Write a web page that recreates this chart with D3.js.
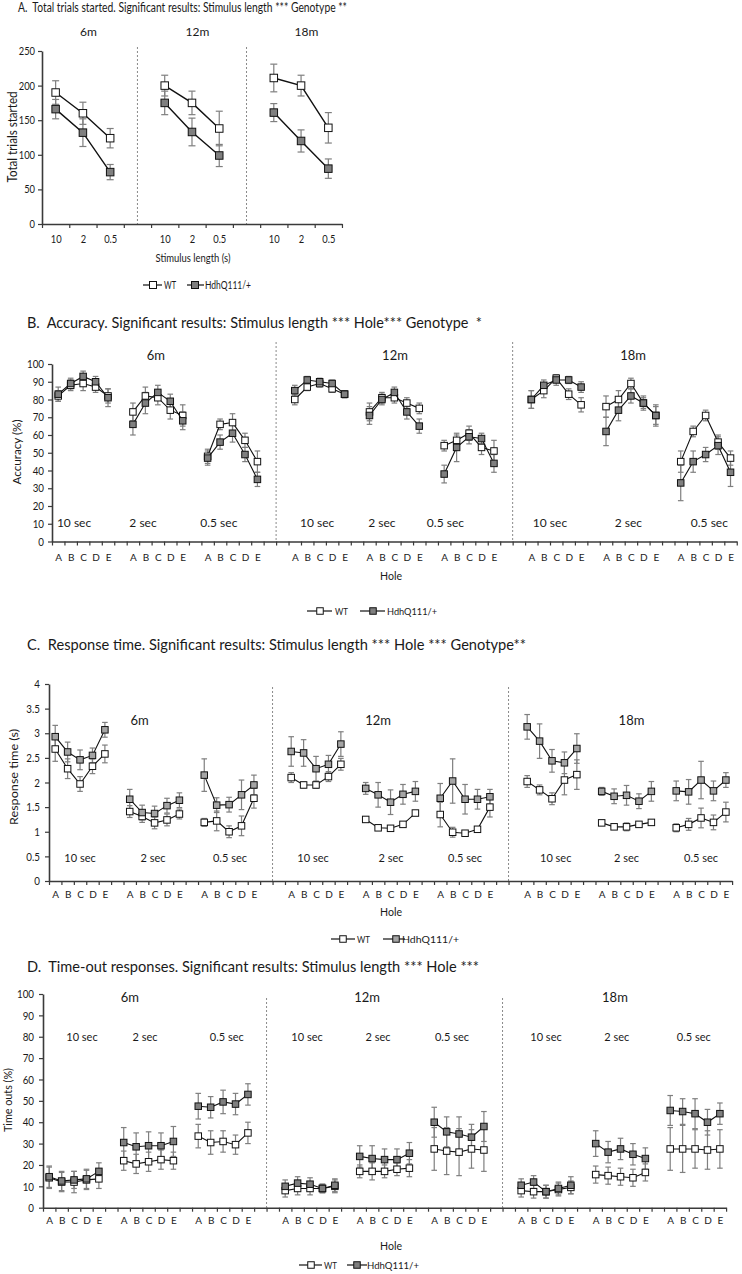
<!DOCTYPE html>
<html><head><meta charset="utf-8">
<script src="https://cdn.jsdelivr.net/npm/d3@7"></script>
<style>
html,body{margin:0;padding:0;background:#fff;}
text{font-family:Lato,"Open Sans","Liberation Sans",sans-serif;fill:#1a1a1a;white-space:pre;}
</style></head><body>
<script>
// ===== DATA =====
const months = ["6m","12m","18m"];
const stimLengths = ["10","2","0.5"];
const stimLabels = ["10 sec","2 sec","0.5 sec"];
const holes = ["A","B","C","D","E"];
const seriesNames = ["WT","HdhQ111/+"];

// Panel A: total trials started [month][stimulus]
const trialsTicks = [0,50,100,150,200,250];
const trialsWT     = [[190,160,124],[200,175,138],[211,200,139]];
const trialsWTErr  = [[17,16,14],[15,17,25],[20,15,22]];
const trialsHdh    = [[166,132,75],[175,133,99],[161,120,80]];
const trialsHdhErr = [[14,20,11],[17,20,16],[13,16,14]];

// Panel B: accuracy (%) [month][stim*5+hole]
const accTicks = [0,10,20,30,40,50,60,70,80,90,100];
const accWT = [
  [82,88,89,87,82, 73,82,81,74,71, 48,66,67,57,45],
  [80,87,89,86,83, 73,81,81,78,75, 54,57,61,53,51],
  [80,85,92,83,77, 76,80,89,78,71, 45,62,71,56,47]];
const accWTErr = [
  [3,3,4,3,4, 5,5,4,5,6, 4,3,5,4,6],
  [3,2,2,2,2, 5,3,3,3,3, 3,3,4,4,6],
  [5,4,2,3,4, 6,5,3,3,5, 6,3,3,4,4]];
const accHdh = [
  [83,89,93,90,81, 66,78,84,79,68, 47,56,61,49,35],
  [85,91,90,89,83, 71,80,84,73,65, 38,53,59,58,44],
  [80,88,91,91,87, 62,74,82,78,71, 33,45,49,54,39]];
const accHdhErr = [
  [4,3,3,3,5, 6,6,4,4,5, 4,4,5,4,4],
  [3,2,2,2,2, 5,3,3,4,4, 5,8,4,3,5],
  [5,3,3,2,3, 8,6,4,4,6, 10,6,4,5,8]];

// Panel C: response time (s)
const rtTicks = [0,0.5,1,1.5,2,2.5,3,3.5,4];
const rtWT = [
  [2.68,2.28,1.97,2.33,2.58, 1.41,1.31,1.18,1.24,1.36, 1.19,1.22,1.00,1.12,1.68],
  [2.10,1.95,1.95,2.12,2.37, 1.25,1.08,1.07,1.15,1.38, 1.35,0.99,0.97,1.05,1.50],
  [2.02,1.85,1.67,2.05,2.16, 1.18,1.10,1.10,1.15,1.19, 1.08,1.15,1.28,1.19,1.40]];
const rtWTErr = [
  [0.25,0.20,0.15,0.15,0.18, 0.12,0.12,0.12,0.12,0.10, 0.08,0.20,0.12,0.20,0.20],
  [0.10,0.06,0.07,0.10,0.12, 0.05,0.05,0.05,0.05,0.05, 0.25,0.10,0.05,0.05,0.20],
  [0.12,0.10,0.12,0.30,0.30, 0.05,0.05,0.08,0.05,0.05, 0.08,0.12,0.20,0.15,0.20]];
const rtHdh = [
  [2.93,2.62,2.46,2.55,3.07, 1.66,1.39,1.37,1.53,1.64, 2.15,1.54,1.55,1.75,1.95],
  [2.63,2.60,2.28,2.37,2.78, 1.88,1.75,1.60,1.76,1.82, 1.68,2.03,1.66,1.66,1.71],
  [3.13,2.84,2.44,2.40,2.69, 1.82,1.72,1.74,1.62,1.82, 1.83,1.81,2.05,1.83,2.05]];
const rtHdhErr = [
  [0.23,0.20,0.20,0.15,0.15, 0.20,0.15,0.15,0.15,0.15, 0.33,0.15,0.15,0.30,0.20],
  [0.30,0.27,0.25,0.18,0.25, 0.12,0.25,0.25,0.20,0.20, 0.30,0.45,0.30,0.20,0.15],
  [0.25,0.35,0.23,0.22,0.30, 0.08,0.15,0.20,0.15,0.20, 0.20,0.25,0.38,0.20,0.15]];

// Panel D: time-out responses (%)
const toTicks = [0,10,20,30,40,50,60,70,80,90,100];
const toWT = [
  [14,12,12,13,13.5, 22,20.5,21.5,22.5,22, 33.5,30.5,31,29.5,35],
  [8,9,9,9,10, 17,17,17,18,18.5, 27.5,26.5,26,27.5,27],
  [8,7.5,7.5,8.5,9.5, 15.5,15,14.5,14,16.5, 27.5,27.5,27.5,27,27.5]];
const toWTErr = [
  [5,4.5,5,4.5,4.5, 4.5,4.5,4.5,4.5,4, 5.5,5.5,5,4.5,5],
  [3,3,3,2,3, 3,4,3,3,4, 10,11,11,9,10],
  [3,3,3,3,3, 4,4,4,4,4, 10,11,9,9,9]];
const toHdh = [
  [14.5,12.5,13,13.5,17, 30.5,28.5,29,29,31, 47.5,47,49.5,48.5,53],
  [10,11.5,11,9,10.5, 24,23,22.5,22.5,25.5, 40,35.5,34.5,33,38],
  [10.5,12,7.5,9,10.5, 30,26,27.5,25,23, 45.5,45,44,40,44]];
const toHdhErr = [
  [5,4.5,4,4.5,4, 7,6.5,6.5,6,7, 6,5,5.5,5,5],
  [3,3,3,2,3, 5,6,5,5,5, 7,7,8,6,7],
  [3,3,3,3,4, 6,5,5,5,5, 7,6,7,6,5]];

// ===== DRAWING =====
const svg = d3.select("body").append("svg").attr("width",742).attr("height",1274);
const AX = "#3a3a3a", ERR = "#7f7f7f";

function fit(sel,w){ sel.attr("textLength",w).attr("lengthAdjust","spacingAndGlyphs"); return sel; }
function squish(sel,k){ sel.each(function(){ const w=this.getComputedTextLength(); if(w>0) d3.select(this).attr("textLength",w*k).attr("lengthAdjust","spacingAndGlyphs"); }); }
function styleAxis(a, fs){
  a.select(".domain").attr("stroke",AX).attr("stroke-width",1.6);
  a.selectAll(".tick line").attr("stroke",AX).attr("stroke-width",1.2);
  a.selectAll(".tick text").attr("fill","#333").style("font-size",fs+"px").attr("font-family",null);
}
function addText(g,t,x,y,fs,anchor,w,weight){
  const s=g.append("text").attr("x",x).attr("y",y).attr("text-anchor",anchor||"start").style("font-size",fs+"px").text(t);
  if(weight) s.style("font-weight",weight);
  if(w) fit(s,w);
  return s;
}
function drawErr(g,pts,cap){
  const e=g.append("g").attr("stroke",ERR).attr("stroke-width",1.2);
  pts.forEach(d=>{
    e.append("line").attr("x1",d.x).attr("x2",d.x).attr("y1",d.ylo).attr("y2",d.yhi);
    e.append("line").attr("x1",d.x-cap).attr("x2",d.x+cap).attr("y1",d.ylo).attr("y2",d.ylo);
    e.append("line").attr("x1",d.x-cap).attr("x2",d.x+cap).attr("y1",d.yhi).attr("y2",d.yhi);
  });
}
function drawSeries(g,pts,fill,sz,lw){
  g.append("path").datum(pts).attr("d",d3.line().x(d=>d.x).y(d=>d.y)).attr("fill","none").attr("stroke","#111").attr("stroke-width",lw);
  g.selectAll(null).data(pts).enter().append("rect")
    .attr("x",d=>d.x-sz/2).attr("y",d=>d.y-sz/2).attr("width",sz).attr("height",sz)
    .attr("fill",fill).attr("stroke","#111").attr("stroke-width",1);
}
function legend(g,o,fill,sz){
  const items=[[o.wl,o.ws,o.wt,o.ww,"#fff"],[o.hl,o.hs,o.ht,o.hw,fill]];
  items.forEach((it,i)=>{
    g.append("line").attr("x1",it[0][0]).attr("x2",it[0][1]).attr("y1",o.y).attr("y2",o.y).attr("stroke","#111").attr("stroke-width",1.2);
    g.append("rect").attr("x",it[1]-sz/2).attr("y",o.y-sz/2).attr("width",sz).attr("height",sz).attr("fill",it[4]).attr("stroke","#111");
    addText(g,seriesNames[i],it[2],o.y+3.5,o.fs,"start",it[3]);
  });
}
function yTitle(g,t,x,y,fs,w){
  const s=g.append("text").attr("transform",`translate(${x},${y}) rotate(-90)`).attr("text-anchor","middle").attr("dy","0.35em").style("font-size",fs+"px").text(t);
  fit(s,w);
}

// ---------- Panel A ----------
(function(){
  const n=11, x0=42, sw=27.27, yb=224;
  const x=d3.scaleLinear().domain([0,n]).range([x0,x0+n*sw]);
  const y=d3.scaleLinear().domain([0,250]).range([yb,51]);
  const g=svg.append("g");
  addText(g,"A.  Total trials started. Significant results: Stimulus length *** Genotype **",18,12,13.5,"start",329);
  [3.5,7.5].forEach(b=>g.append("line").attr("x1",x(b)).attr("x2",x(b)).attr("y1",47).attr("y2",yb).attr("stroke","#8a8a8a").attr("stroke-dasharray","2,2"));
  const ya=g.append("g").attr("transform",`translate(${x0},0)`).call(d3.axisLeft(y).tickValues(trialsTicks).tickSize(4).tickSizeOuter(0).tickPadding(3));
  styleAxis(ya,11); squish(ya.selectAll(".tick text"),0.85);
  const xa=g.append("g").attr("transform",`translate(0,${yb})`).call(d3.axisBottom(x).tickValues(d3.range(0,n+1)).tickSize(4).tickSizeOuter(0).tickFormat(""));
  styleAxis(xa,11);
  const xl=g.append("g").attr("transform",`translate(0,${yb})`).call(d3.axisBottom(x).tickValues(d3.range(0,n).map(k=>k+0.5)).tickSize(0).tickFormat(d=>{const k=Math.floor(d)%4;return k<3?stimLengths[k]:"";}));
  xl.select(".domain").remove(); styleAxis(xl,11);
  xl.selectAll("text").attr("dy",null).attr("y",19); squish(xl.selectAll(".tick text"),0.85);
  months.forEach((m,i)=>addText(g,m,x(i*4+1.7),36,12,"middle"));
  addText(g,"Stimulus length (s)",193,262,12,"middle",75);
  yTitle(g,"Total trials started",13,137,12.5,91);
  const mk=(vals,errs)=>{const p=[];months.forEach((m,mi)=>{const row=[];stimLengths.forEach((s,si)=>{const v=vals[mi][si],e=errs[mi][si];row.push({x:x(mi*4+si+0.5),y:y(v),ylo:y(v-e),yhi:y(v+e)});});p.push(row);});return p;};
  const wt=mk(trialsWT,trialsWTErr), hd=mk(trialsHdh,trialsHdhErr);
  wt.concat(hd).forEach(r=>drawErr(g,r,3.5));
  wt.forEach(r=>drawSeries(g,r,"#fff",7.5,1.4));
  hd.forEach(r=>drawSeries(g,r,"#7f7f7f",7.5,1.4));
  legend(g,{y:285,fs:10.5,wl:[143,162],ws:153,wt:164,ww:12,hl:[187,204],hs:195,ht:205,hw:46},"#7f7f7f",7);
})();

// ---------- Hole panels ----------
function holePanel(o){
  const n=55, per=19;
  const x=d3.scaleLinear().domain([0,n]).range([o.x0,o.x0+n*o.sw]);
  const y=d3.scaleLinear().domain([0,o.max]).range([o.yb,o.yt]);
  const g=svg.append("g");
  const slot=(m,s,h)=>m*per+s*6+h;
  addText(g,o.title,27,o.titleY,16,"start",o.titleW);
  [18,37].forEach(b=>g.append("line").attr("x1",x(b)).attr("x2",x(b)).attr("y1",o.dashTop).attr("y2",o.yb).attr("stroke","#8a8a8a").attr("stroke-dasharray","2,2"));
  const ya=g.append("g").attr("transform",`translate(${o.x0},0)`).call(d3.axisLeft(y).tickValues(o.ticks).tickSize(4).tickSizeOuter(0).tickPadding(o.tp).tickFormat(d=>String(d)));
  styleAxis(ya,11.5); squish(ya.selectAll(".tick text"),0.85);
  const xa=g.append("g").attr("transform",`translate(0,${o.yb})`).call(d3.axisBottom(x).tickValues(d3.range(0,n+1)).tickSize(4).tickSizeOuter(0).tickFormat(""));
  styleAxis(xa,10);
  const lab=k=>{const r=k%per;return (r<17&&r%6<5)?holes[r%6]:"";};
  const xl=g.append("g").attr("transform",`translate(0,${o.yb})`).call(d3.axisBottom(x).tickValues(d3.range(0,n).map(k=>k+0.5)).tickSize(0).tickFormat(d=>lab(Math.floor(d))));
  xl.select(".domain").remove(); styleAxis(xl,10);
  xl.selectAll("text").attr("dy",null).attr("y",o.xlOff);
  months.forEach((m,i)=>addText(g,m,x(i*per+o.monthPos[i]),o.monthY,13,"middle"));
  o.stimPos.forEach((p,i)=>addText(g,stimLabels[i%3],x(p),o.stimY,o.stimFs,"middle"));
  addText(g,"Hole",391,o.holeY,12,"middle",22);
  yTitle(g,o.yTitle,o.ytx,o.yty,12,o.ytw);
  const mk=(vals,errs)=>{const p=[];months.forEach((m,mi)=>{stimLabels.forEach((s,si)=>{p.push(holes.map((h,hi)=>{const v=vals[mi][si*5+hi],e=errs[mi][si*5+hi];return {x:x(slot(mi,si,hi)+0.5),y:y(v),ylo:y(Math.max(0,v-e)),yhi:y(v+e)};}));});});return p;};
  const wt=mk(o.wt,o.wtE), hd=mk(o.hd,o.hdE);
  wt.concat(hd).forEach(r=>drawErr(g,r,2.8));
  wt.forEach(r=>drawSeries(g,r,"#fff",6.5,1.1));
  hd.forEach(r=>drawSeries(g,r,o.fill,6.5,1.1));
  legend(g,o.leg,o.fill,6.5);
}

holePanel({title:"B.  Accuracy. Significant results: Stimulus length *** Hole*** Genotype  *",titleY:328,titleW:455,
  x0:52,sw:12.45,yb:541.5,yt:364,max:100,ticks:accTicks,tp:4,dashTop:342,xlOff:19.5,
  monthPos:[8.35,8.55,8.67],monthY:360,stimPos:[1.77,7.31,13.4,21.3,26.5,31.6,40.0,46.3,52.8],stimY:527,stimFs:12,
  holeY:580,yTitle:"Accuracy (%)",ytx:17,yty:452,ytw:65,wt:accWT,wtE:accWTErr,hd:accHdh,hdE:accHdhErr,fill:"#7f7f7f",
  leg:{y:611,fs:10,wl:[307,332],ws:320,wt:335,ww:13,hl:[360,385],hs:373,ht:387,hw:50}});

holePanel({title:"C.  Response time. Significant results: Stimulus length *** Hole *** Genotype**",titleY:650,titleW:499,
  x0:49,sw:12.42,yb:881,yt:684,max:4,ticks:rtTicks,tp:5,dashTop:687,xlOff:17,
  monthPos:[7.3,7.5,8.9],monthY:725,stimPos:[2.5,8.37,14.57,21.26,27.54,33.5,40.8,46.5,52.5],stimY:862,stimFs:11,
  holeY:916,yTitle:"Response time (s)",ytx:14,yty:777,ytw:96,wt:rtWT,wtE:rtWTErr,hd:rtHdh,hdE:rtHdhErr,fill:"#a5a5a5",
  leg:{y:939,fs:10,wl:[331,355],ws:343,wt:357,ww:13,hl:[383,405],hs:396,ht:402,hw:57}});

holePanel({title:"D.  Time-out responses. Significant results: Stimulus length *** Hole ***",titleY:972,titleW:452,
  x0:43,sw:12.42,yb:1207.7,yt:994,max:100,ticks:toTicks,tp:5,dashTop:998,xlOff:16.5,
  monthPos:[7.0,7.1,8.05],monthY:1002,stimPos:[3.14,8.21,14.8,21.26,26.97,32.93,40.5,46.2,52.4],stimY:1041,stimFs:11,
  holeY:1250,yTitle:"Time outs (%)",ytx:8,yty:1100,ytw:64,wt:toWT,wtE:toWTErr,hd:toHdh,hdE:toHdhErr,fill:"#7f7f7f",
  leg:{y:1265,fs:10,wl:[299,322],ws:311,wt:324,ww:13,hl:[347,367],hs:357,ht:367,hw:52}});
</script>
</body></html>
